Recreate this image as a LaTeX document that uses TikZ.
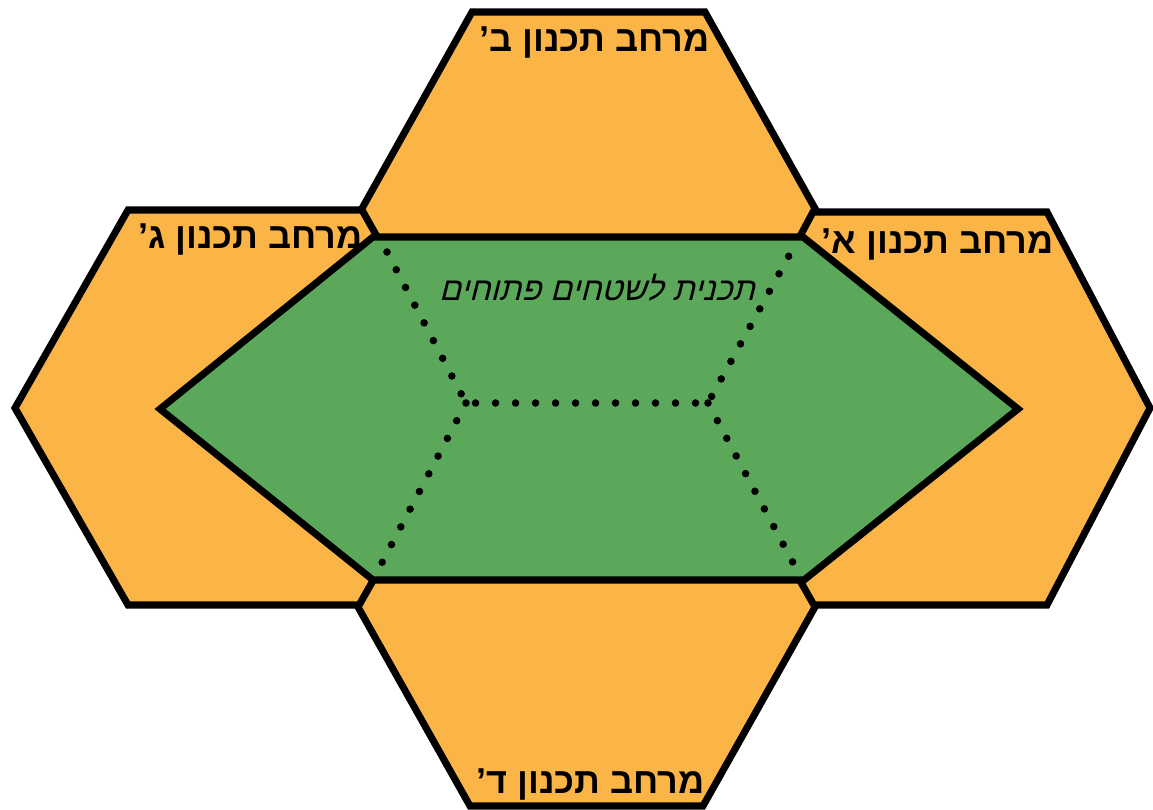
\documentclass[tikz,border=0pt]{standalone}
\usepackage{fontspec}
\setmainfont{Liberation Sans}
\newfontfamily\hebfont[Script=Hebrew]{Liberation Sans}
\newfontfamily\hebslant[Script=Hebrew,FakeSlant=0.25]{Liberation Sans}
\TeXXeTstate=1
\usetikzlibrary{calc}
\definecolor{zonecol}{RGB}{251,180,70}
\definecolor{opencol}{RGB}{92,168,90}

\begin{document}
\begin{tikzpicture}[
    x=0.02cm, y=-0.02cm,
    zone/.style={fill=zonecol, draw=black, line width=4pt, line join=miter},
    openarea/.style={fill=opencol, draw=black, line width=4pt, line join=miter},
    split/.style={line width=4.3pt, line cap=round, dash pattern=on 0pt off 0.4cm},
    zonelabel/.style={font=\hebfont\bfseries\fontsize{20.5pt}{22pt}\selectfont, inner sep=0pt, anchor=east},
    plantitle/.style={font=\hebslant\fontsize{18.5pt}{20pt}\selectfont, inner sep=0pt},
]
\useasboundingbox (0,0) rectangle (1153,810);

% planning zones
\draw[zone] (472,12) -- (705,12) -- (817,212) -- (705,410) -- (472,410) -- (360,212) -- cycle;
\draw[zone] (128,210) -- (362,210) -- (474,408) -- (362,605) -- (128,605) -- (15,408) -- cycle;
\draw[zone] (813,212) -- (1047,212) -- (1150,408) -- (1047,605) -- (813,605) -- (708,408) -- cycle;
\draw[zone] (470,410) -- (703,410) -- (815,607) -- (703,806) -- (470,806) -- (358,607) -- cycle;

% open areas plan
\coordinate (gL) at (160,409);
\coordinate (gTL) at (373,237);
\coordinate (gTR) at (803,237);
\coordinate (gR) at (1018,409);
\coordinate (gBR) at (804,580);
\coordinate (gBL) at (373,580);
\draw[openarea] (gL) -- (gTL) -- (gTR) -- (gR) -- (gBR) -- (gBL) -- cycle;

\coordinate (jL) at (466,403);
\coordinate (jR) at (708,403);
\coordinate (sTL) at (387,252);
\coordinate (sTR) at (791,252);
\coordinate (sBL) at (376,574);
\coordinate (sBR) at (799,574);
\draw[split] (sTL) -- (jL) -- (jR) -- (sTR);
\draw[split] (jL) -- (sBL);
\draw[split] (jR) -- (sBR);

\node[plantitle] (title) at (597,288) {\beginR תכנית לשטחים פתוחים\endR};

% zone labels
\node[zonelabel] (zoneB) at (710,43) {\beginR מרחב תכנון ב’\endR};
\node[zonelabel] (zoneG) at (363,239) {\beginR מרחב תכנון ג’\endR};
\node[zonelabel] (zoneA) at (1054,244) {\beginR מרחב תכנון א’\endR};
\node[zonelabel] (zoneD) at (705,784) {\beginR מרחב תכנון ד’\endR};
\end{tikzpicture}
\end{document}
